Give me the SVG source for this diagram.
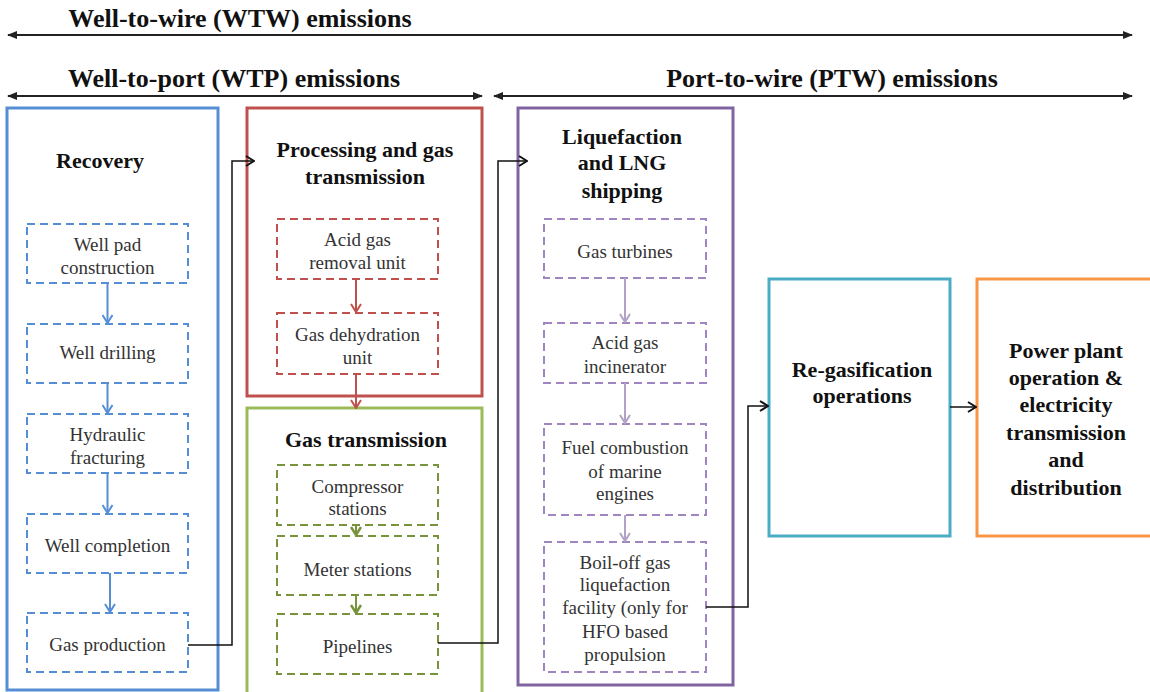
<svg xmlns="http://www.w3.org/2000/svg" width="1150" height="692" viewBox="0 0 1150 692">
<style>
text{font-family:"Liberation Serif","Times New Roman","DejaVu Serif",serif;text-anchor:middle}
.hd{font-size:26px;font-weight:bold;fill:#111}
.tt{font-size:22px;font-weight:bold;fill:#111}
.lb{font-size:19px;fill:#333}
.outer{fill:none;stroke-width:3}
.dash{fill:none;stroke-width:2;stroke-dasharray:8 5}
.conn{fill:none;stroke:#111;stroke-width:1.5}
.sub{fill:none;stroke-width:2}
.span{fill:none;stroke:#222;stroke-width:2}
</style>
<defs>
<marker id="tri" viewBox="0 0 10 8" refX="9" refY="4" markerWidth="10" markerHeight="8" markerUnits="userSpaceOnUse" orient="auto-start-reverse"><path d="M0,0 L10,4 L0,8 z" fill="#222"/></marker>
<marker id="ak" viewBox="0 0 10 12" refX="9" refY="6" markerWidth="10" markerHeight="12" markerUnits="userSpaceOnUse" orient="auto"><path d="M1,1 L9,6 L1,11" fill="none" stroke="#111" stroke-width="2"/></marker>
<marker id="ab" viewBox="0 0 12 10" refX="6" refY="9" markerWidth="12" markerHeight="10" markerUnits="userSpaceOnUse" orient="0"><path d="M1,1 L6,9 L11,1" fill="none" stroke="#558ED5" stroke-width="2"/></marker>
<marker id="ar" viewBox="0 0 12 10" refX="6" refY="9" markerWidth="12" markerHeight="10" markerUnits="userSpaceOnUse" orient="0"><path d="M1,1 L6,9 L11,1" fill="none" stroke="#C0504D" stroke-width="2"/></marker>
<marker id="ag" viewBox="0 0 12 10" refX="6" refY="9" markerWidth="12" markerHeight="10" markerUnits="userSpaceOnUse" orient="0"><path d="M1,1 L6,9 L11,1" fill="none" stroke="#77933C" stroke-width="2.5"/></marker>
<marker id="ap" viewBox="0 0 12 10" refX="6" refY="9" markerWidth="12" markerHeight="10" markerUnits="userSpaceOnUse" orient="0"><path d="M1,1 L6,9 L11,1" fill="none" stroke="#B3A2C7" stroke-width="2"/></marker>
</defs>
<rect width="1150" height="692" fill="#fff"/>

<g id="spans" font-family="Liberation Serif, Times New Roman, serif">
<text class="hd" x="240" y="27">Well-to-wire (WTW) emissions</text>
<line class="span" x1="8" y1="35" x2="1132" y2="35" marker-start="url(#tri)" marker-end="url(#tri)"/>
<text class="hd" x="234" y="87">Well-to-port (WTP) emissions</text>
<line class="span" x1="8" y1="96" x2="482" y2="96" marker-start="url(#tri)" marker-end="url(#tri)"/>
<text class="hd" x="832" y="87">Port-to-wire (PTW) emissions</text>
<line class="span" x1="494" y1="96" x2="1132" y2="96" marker-start="url(#tri)" marker-end="url(#tri)"/>
</g>

<g id="recovery">
<rect class="outer" x="7" y="108" width="211" height="582" stroke="#558ED5"/>
<text class="tt" x="100" y="168">Recovery</text>
<g id="well-pad"><rect class="dash" x="27" y="224" width="161" height="59" stroke="#558ED5"/><text class="lb" x="107.5" y="251">Well pad</text><text class="lb" x="107.5" y="274">construction</text></g>
<g id="well-drilling"><rect class="dash" x="27" y="324" width="161" height="59" stroke="#558ED5"/><text class="lb" x="107.5" y="359">Well drilling</text></g>
<g id="hydraulic"><rect class="dash" x="27" y="414" width="161" height="59" stroke="#558ED5"/><text class="lb" x="107.5" y="441">Hydraulic</text><text class="lb" x="107.5" y="464">fracturing</text></g>
<g id="well-completion"><rect class="dash" x="27" y="514" width="161" height="59" stroke="#558ED5"/><text class="lb" x="107.5" y="552">Well completion</text></g>
<g id="gas-production"><rect class="dash" x="27" y="613" width="161" height="59" stroke="#558ED5"/><text class="lb" x="107.5" y="651">Gas production</text></g>
</g>

<g id="processing">
<rect class="outer" x="247" y="108" width="235" height="288" stroke="#C0504D"/>
<text class="tt" x="365" y="157">Processing and gas</text>
<text class="tt" x="365" y="184">transmission</text>
<g id="acid-gas-removal"><rect class="dash" x="277" y="219" width="161" height="60" stroke="#C0504D"/><text class="lb" x="357.5" y="246">Acid gas</text><text class="lb" x="357.5" y="269">removal unit</text></g>
<g id="dehydration"><rect class="dash" x="277" y="313" width="161" height="61" stroke="#C0504D"/><text class="lb" x="357.5" y="341">Gas dehydration</text><text class="lb" x="357.5" y="364">unit</text></g>
</g>

<g id="gas-transmission">
<rect class="outer" x="247" y="408" width="235" height="290" stroke="#9BBB59"/>
<text class="tt" x="366" y="447">Gas transmission</text>
<g id="compressor"><rect class="dash" x="277" y="465" width="161" height="60" stroke="#77933C"/><text class="lb" x="357.5" y="493">Compressor</text><text class="lb" x="357.5" y="515">stations</text></g>
<g id="meter"><rect class="dash" x="277" y="536" width="161" height="59" stroke="#77933C"/><text class="lb" x="357.5" y="576">Meter stations</text></g>
<g id="pipelines"><rect class="dash" x="277" y="614" width="161" height="60" stroke="#77933C"/><text class="lb" x="357.5" y="653">Pipelines</text></g>
</g>

<g id="liquefaction">
<rect class="outer" x="518" y="108" width="215" height="577" stroke="#8064A2"/>
<text class="tt" x="622" y="144">Liquefaction</text>
<text class="tt" x="622" y="170">and LNG</text>
<text class="tt" x="622" y="198">shipping</text>
<g id="gas-turbines"><rect class="dash" x="544" y="219" width="162" height="59" stroke="#9F86C0"/><text class="lb" x="625" y="258">Gas turbines</text></g>
<g id="incinerator"><rect class="dash" x="544" y="323" width="162" height="60" stroke="#9F86C0"/><text class="lb" x="625" y="349">Acid gas</text><text class="lb" x="625" y="373">incinerator</text></g>
<g id="marine-engines"><rect class="dash" x="544" y="424" width="162" height="91" stroke="#9F86C0"/><text class="lb" x="625" y="454">Fuel combustion</text><text class="lb" x="625" y="478">of marine</text><text class="lb" x="625" y="500">engines</text></g>
<g id="boil-off"><rect class="dash" x="544" y="542" width="162" height="130" stroke="#9F86C0"/><text class="lb" x="625" y="569">Boil-off gas</text><text class="lb" x="625" y="591">liquefaction</text><text class="lb" x="625" y="614">facility (only for</text><text class="lb" x="625" y="638">HFO based</text><text class="lb" x="625" y="661">propulsion</text></g>
</g>

<g id="regasification">
<rect class="outer" x="769" y="279" width="181" height="257" stroke="#4BACC6"/>
<text class="tt" x="862" y="377">Re-gasification</text>
<text class="tt" x="862" y="403">operations</text>
</g>

<g id="power-plant">
<rect class="outer" x="977" y="279" width="190" height="257" stroke="#F79646"/>
<text class="tt" x="1066" y="358">Power plant</text>
<text class="tt" x="1066" y="385">operation &amp;</text>
<text class="tt" x="1066" y="412">electricity</text>
<text class="tt" x="1066" y="440">transmission</text>
<text class="tt" x="1066" y="467">and</text>
<text class="tt" x="1066" y="495">distribution</text>
</g>

<g id="connectors">
<line class="sub" x1="107.5" y1="283" x2="107.5" y2="323" stroke="#558ED5" marker-end="url(#ab)"/>
<line class="sub" x1="107.5" y1="383" x2="107.5" y2="413" stroke="#558ED5" marker-end="url(#ab)"/>
<line class="sub" x1="107.5" y1="473" x2="107.5" y2="513" stroke="#558ED5" marker-end="url(#ab)"/>
<line class="sub" x1="110" y1="573" x2="110" y2="612" stroke="#558ED5" marker-end="url(#ab)"/>
<line class="sub" x1="356" y1="279" x2="356" y2="312" stroke="#C0504D" marker-end="url(#ar)"/>
<line class="sub" x1="356" y1="374" x2="356" y2="408" stroke="#C0504D" marker-end="url(#ar)"/>
<line class="sub" x1="356" y1="525" x2="356" y2="535" stroke="#77933C" marker-end="url(#ag)"/>
<line class="sub" x1="356" y1="595" x2="356" y2="613" stroke="#77933C" marker-end="url(#ag)"/>
<line class="sub" x1="625" y1="278" x2="625" y2="322" stroke="#B3A2C7" marker-end="url(#ap)"/>
<line class="sub" x1="625" y1="383" x2="625" y2="423" stroke="#B3A2C7" marker-end="url(#ap)"/>
<line class="sub" x1="625" y1="515" x2="625" y2="541" stroke="#B3A2C7" marker-end="url(#ap)"/>
<path class="conn" d="M188,645 H232 V161 H254" marker-end="url(#ak)"/>
<path class="conn" d="M438,643 H498 V161 H527" marker-end="url(#ak)"/>
<path class="conn" d="M706,607 H748 V406 H768" marker-end="url(#ak)"/>
<path class="conn" d="M950,407 H976" marker-end="url(#ak)"/>
</g>
</svg>
